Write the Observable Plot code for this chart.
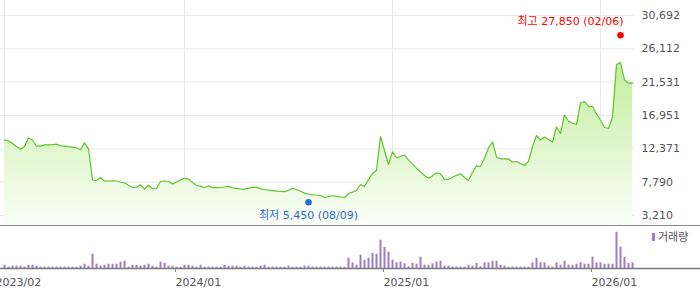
<!DOCTYPE html>
<html><head><meta charset="utf-8">
<script src="https://cdn.jsdelivr.net/npm/d3@7"></script>
<script src="https://cdn.jsdelivr.net/npm/@observablehq/plot@0.6"></script>
<style>
body{margin:0;background:#fff;}
#wrap{position:relative;width:700px;height:289px;overflow:hidden;font-family:"DejaVu Sans","Noto Sans CJK KR",sans-serif;}
#wrap svg{display:block;}
#vol{border-top:1.4px solid #8a8a8a;}
.legend{position:absolute;left:652px;top:231px;font-size:11px;color:#555;line-height:14px;}
.legend i{display:inline-block;width:3px;height:8px;background:#9a7fc6;margin-right:3px;vertical-align:-0px;}
</style></head>
<body>
<div id="wrap"><div id="price"></div><div id="vol"></div><div class="legend"><i></i>거래량</div></div>
<script>
// weekly closing prices (Fridays, from 2023-02-24)
const closes = [13600,13450,13100,12690,12320,12690,13860,13580,12730,12730,
12920,12920,12940,13010,12790,12730,12660,12600,12530,12240,
13200,12370,8110,8020,8430,7920,7950,7960,7950,7780,
7720,7360,7060,7080,7430,6850,7360,6880,6920,7880,
7950,7880,7540,7810,8090,8320,8210,7740,7330,7240,
7030,7300,7030,7030,7060,7130,7220,7020,6950,6880,
6840,6960,7070,7110,6880,6780,6690,6620,6560,6510,
6480,6670,6950,6780,6540,6290,6150,6050,6030,5960,
5680,5820,5920,5850,5750,5680,6230,6420,6640,7470,
7200,8150,8980,9390,14060,12140,10220,11960,11140,11320,
11520,10830,10260,9710,9210,8710,8320,8660,9080,8940,
8150,8200,8470,8730,8940,8430,8020,9120,10040,9940,
11040,12480,13310,11220,11000,11000,10970,10560,10630,10350,
10080,10630,12690,14200,13580,14000,13650,13310,15370,14480,
17020,16190,15880,15710,18670,18870,18190,18190,17160,16330,
15300,15160,16680,23960,24230,21860,21390,21390];
// weekly volume (thousand shares)
const volumes = [33,13,23,23,23,13,33,33,23,13,
13,13,13,13,13,13,13,13,13,23,
43,23,143,43,23,33,43,43,43,63,
73,13,33,33,23,33,43,23,13,63,
53,23,23,13,13,33,33,23,13,33,
13,13,13,13,13,33,23,23,23,13,
23,13,13,13,23,33,13,13,13,13,
13,23,13,13,13,23,23,13,13,13,
13,13,13,13,13,13,103,57,33,133,
83,103,150,143,283,210,163,83,57,63,
47,17,50,43,113,33,33,47,63,73,
23,23,17,13,13,13,33,23,50,17,
57,57,73,73,33,23,13,13,13,13,
13,13,57,103,57,57,23,13,57,33,
73,33,33,43,57,43,43,113,57,57,
43,43,43,363,213,113,50,57];
const startDate = new Date(Date.UTC(2023,1,24));
const dates = closes.map((_, i) => d3.utcDay.offset(startDate, 7*i));
const yTicks = [3210,7790,12371,16951,21531,26112,30692];
const tickDates = [new Date(Date.UTC(2023,1,24)), new Date(Date.UTC(2024,0,5)), new Date(Date.UTC(2025,0,3)), new Date(Date.UTC(2026,0,2))];
const tickLabels = ["2023/02","2024/01","2025/01","2026/01"];
const high = {date: new Date(Date.UTC(2026,1,6)), value: 27850, label: "최고 27,850 (02/06)"};
const low = {date: new Date(Date.UTC(2024,7,9)), value: 5450, label: "최저 5,450 (08/09)"};

const data = dates.map((d, i) => ({date: d, close: closes[i], volume: volumes[i]}));
const labelMap = new Map(tickDates.map((d, i) => [+d, tickLabels[i]]));
const yMin = 1836, yMax = 32753;
const font = "DejaVu Sans, Noto Sans CJK KR, sans-serif";

const price = Plot.plot({
  width: 700, height: 225,
  marginLeft: 4, marginRight: 68, marginTop: 0, marginBottom: 0,
  style: {fontFamily: font, fontSize: "11px", color: "#555", background: "transparent", overflow: "visible"},
  x: {type: "utc", domain: [dates[0], dates[dates.length-1]], axis: null},
  y: {domain: [yMin, yMax], axis: null},
  marks: [
    Plot.ruleY(yTicks, {stroke: "#e8e8e8", strokeWidth: 1, insetLeft: -4, insetRight: -2}),
    Plot.ruleX(tickDates, {stroke: "#e8e8e8", strokeWidth: 1}),
    Plot.area(data, {x1: "date", y1: yMin, y2: "close", fill: "url(#pg)"}),
    Plot.line(data, {x: "date", y: "close", stroke: "#5fc52d", strokeWidth: 1.2}),
    Plot.axisY(yTicks, {anchor: "right", tickSize: 0, tickPadding: 9, tickFormat: d3.format(","), textAnchor: "start", fill: "#555"}),
    Plot.dot([high], {x: "date", y: "value", r: 3.3, fill: "#ff0000", stroke: null, dy: -1}),
    Plot.text([high], {x: "date", y: "value", text: "label", fill: "#ff0000", textAnchor: "end", dx: 3, dy: -15, fontSize: 11}),
    Plot.dot([low], {x: "date", y: "value", r: 3.3, fill: "#1f6fd8", stroke: null, dy: 3}),
    Plot.text([low], {x: "date", y: "value", text: "label", fill: "#2a68c8", textAnchor: "middle", dy: 16, fontSize: 11})
  ]
});
const ns = "http://www.w3.org/2000/svg";
const defs = document.createElementNS(ns, "defs");
const grad = document.createElementNS(ns, "linearGradient");
grad.setAttribute("id", "pg");
grad.setAttribute("gradientUnits", "userSpaceOnUse");
grad.setAttribute("x1", "0"); grad.setAttribute("x2", "0");
grad.setAttribute("y1", "40"); grad.setAttribute("y2", "225");
[["0", "#b9ec8e"], ["0.55", "#def6ca"], ["1", "#fbfef8"]].forEach(([o, c]) => {
  const s = document.createElementNS(ns, "stop");
  s.setAttribute("offset", o); s.setAttribute("stop-color", c);
  grad.appendChild(s);
});
defs.appendChild(grad);
price.insertBefore(defs, price.firstChild);
document.getElementById("price").appendChild(price);

const vol = Plot.plot({
  width: 700, height: 63,
  marginLeft: 4, marginRight: 68, marginTop: 0, marginBottom: 21,
  style: {fontFamily: font, fontSize: "11px", color: "#555", background: "transparent", overflow: "visible"},
  x: {type: "utc", domain: [dates[0], dates[dates.length-1]], axis: null},
  y: {domain: [0, 420], axis: null},
  marks: [
    Plot.ruleX(data, {x: "date", y1: 0, y2: "volume", stroke: "#9a7fc6", strokeWidth: 2}),
    Plot.ruleY([0], {stroke: "#7a7a7a", strokeWidth: 1.3, insetLeft: -4, insetRight: -68}),
    Plot.axisX(tickDates, {anchor: "bottom", tickSize: 4, tickPadding: 6, tickFormat: d => labelMap.get(+d), textAnchor: "start", dx: -9, stroke: "#888", fill: "#555"})
  ]
});
document.getElementById("vol").appendChild(vol);
</script>
</body></html>
